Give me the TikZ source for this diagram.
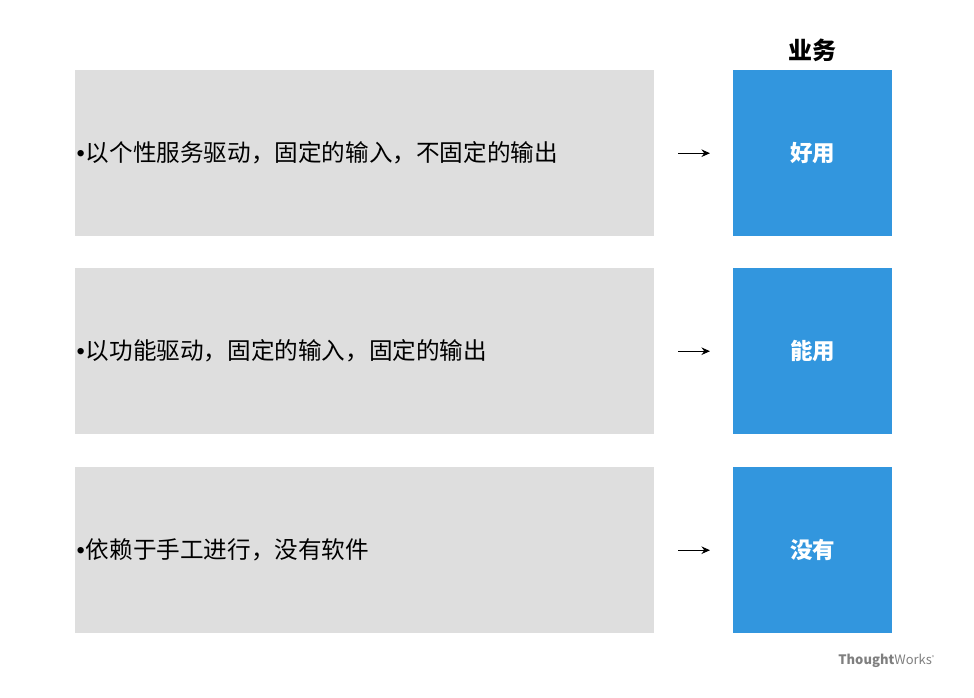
\documentclass[tikz,border=0pt]{standalone}
\usepackage{fontspec}
\setmainfont{Noto Sans CJK SC}
\newfontfamily\dotfont{Liberation Sans}
\usetikzlibrary{arrows.meta}
\definecolor{rowgray}{HTML}{DEDEDE}
\definecolor{resblue}{HTML}{3296DE}
\definecolor{logogray}{HTML}{7F7F7F}
\newcommand{\bul}{{\dotfont •}\kern1pt}
\begin{document}
\begin{tikzpicture}[>={Stealth[length=8.5pt,width=7.5pt]}, x=1pt, y=-1pt]
        \tikzset{
            row/.style={fill=rowgray, anchor=north west, minimum height=166pt, text width=576pt, inner sep=1.5pt, align=left, font=\fontsize{23.6}{28}\selectfont},
            res/.style={fill=resblue, anchor=north west, minimum width=159pt, minimum height=166pt, inner sep=0pt, text=white, font=\fontsize{22.5}{26}\selectfont\bfseries},
            link/.style={->, line width=1.4pt, black}
        }
        \useasboundingbox (0,0) rectangle (974,697);

        \node[font=\fontsize{24}{28}\selectfont\bfseries] (head) at (812,50) {业务};

        \node[row] (r1) at (75,70) {\bul 以个性服务驱动，固定的输入，不固定的输出};
        \node[row] (r2) at (75,268) {\bul 以功能驱动，固定的输入，固定的输出};
        \node[row] (r3) at (75,467) {\bul 依赖于手工进行，没有软件};

        \node[res] (b1) at (733,70) {好用};
        \node[res] (b2) at (733,268) {能用};
        \node[res] (b3) at (733,467) {没有};

        \draw[link] ([xshift=24pt]r1.east) -- ([xshift=-23pt]b1.west);
        \draw[link] ([xshift=24pt]r2.east) -- ([xshift=-23pt]b2.west);
        \draw[link] ([xshift=24pt]r3.east) -- ([xshift=-23pt]b3.west);

        \node[anchor=east, text=logogray, font=\fontsize{13}{15}\selectfont, inner sep=0pt] (logo) at (935,661) {\textbf{Thought}Works\raisebox{0.5ex}{\tiny\textsuperscript{®}}};
\end{tikzpicture}
\end{document}
